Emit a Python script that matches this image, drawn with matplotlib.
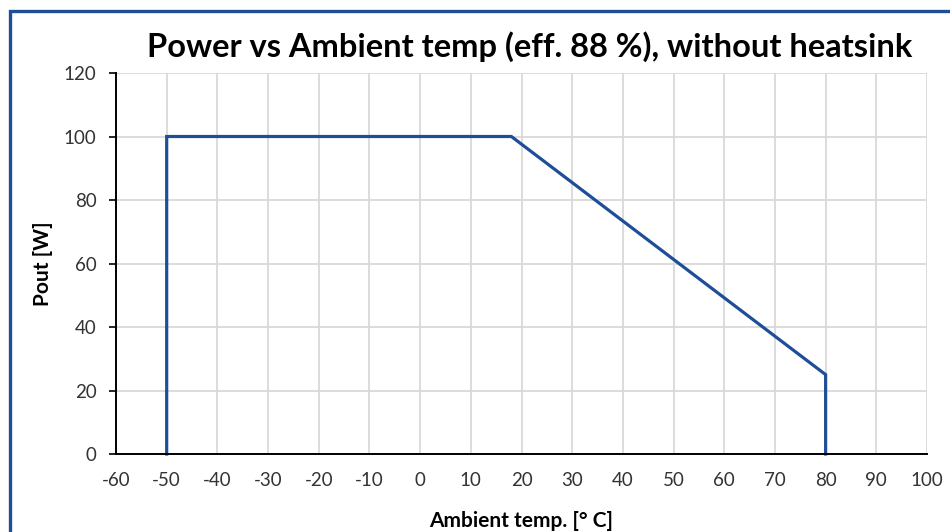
import matplotlib
matplotlib.use("Agg")
import matplotlib.pyplot as plt
from matplotlib.patches import Rectangle

# derating curve points
temp = [-50, -50, 18, 80, 80]
pout = [0, 100, 100, 25, 0]

x_ticks = list(range(-60, 101, 10))
y_ticks = list(range(0, 121, 20))

blue = "#1f4e99"
grid_col = "#d9d9d9"

plt.rcParams['font.family'] = ['Lato', 'DejaVu Sans']
plt.rcParams['axes.unicode_minus'] = False

fig = plt.figure(figsize=(9.5, 5.32), dpi=100)
ax = fig.add_axes([116/950, 1-454/532, (927-116)/950, (454-73)/532])

ax.plot(temp, pout, color=blue, lw=2.3, solid_joinstyle='miter', clip_on=False, zorder=3)

ax.set_xlim(-60, 100)
ax.set_ylim(0, 120)
ax.set_xticks(x_ticks)
ax.set_yticks(y_ticks)
ax.tick_params(axis='x', length=0, pad=13, labelsize=13.5, colors='#333333')
ax.tick_params(axis='y', length=5, width=1.2, direction='out', pad=9, labelsize=13.5, colors='#333333')
ax.tick_params(axis='y', color='black')
ax.grid(True, color=grid_col, lw=1.3)
ax.set_axisbelow(True)

for s in ['top', 'right']:
    ax.spines[s].set_visible(False)
for s in ['left', 'bottom']:
    ax.spines[s].set_color('black')
    ax.spines[s].set_linewidth(1.4)
    ax.spines[s].set_zorder(4)

ax.set_xlabel("Ambient temp. [° C]", fontsize=15, fontweight='bold', labelpad=16)
ax.set_ylabel("Pout [W]", fontsize=15, fontweight='bold', labelpad=8)

fig.text(530/950, 1-47/532, "Power vs Ambient temp (eff. 88 %), without heatsink",
         ha='center', va='center', fontsize=23.5, fontweight='bold')

# blue chart frame
fig.patches.append(Rectangle((10/950, -0.1), 1.2, 1.1 - 11/532, transform=fig.transFigure,
                             fill=False, edgecolor=blue, lw=2.4, zorder=0))

fig.savefig("out.png", dpi=100)
